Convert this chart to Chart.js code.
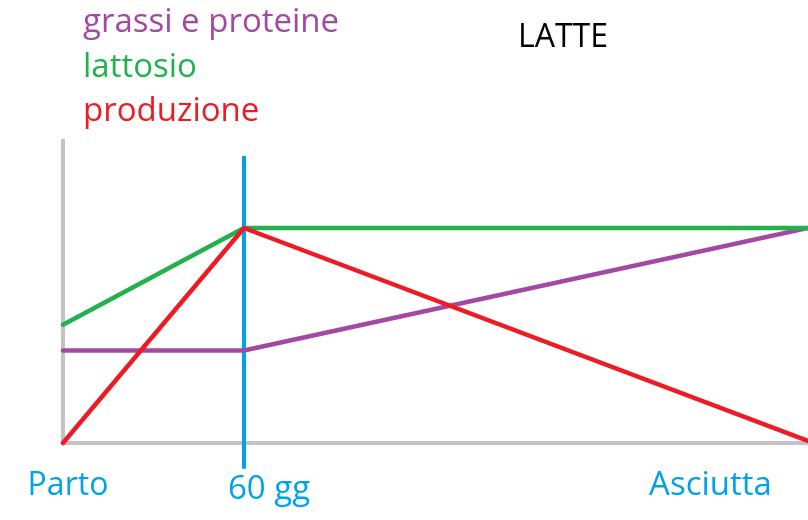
<!DOCTYPE html>
<html>
<head>
<meta charset="utf-8">
<script src="https://cdn.jsdelivr.net/npm/chart.js@4.4.1/dist/chart.umd.min.js"></script>
<style>
    html, body { margin: 0; padding: 0; background: #fff; }
    #wrap { width: 808px; height: 520px; position: relative; }
</style>
</head>
<body>
<div id="wrap"><canvas id="latte"></canvas></div>
<script>
// giorni dal parto (asse x) e livelli relativi (asse y, 100 = picco)
const giorni = [0, 60, 247];
const grassiProteine = [43, 43, 100];
const lattosio = [55, 100, 100];
const produzione = [0, 100, 1];

const xTickValues = [0, 60, 214];
const xTickLabels = ['Parto', '60 gg', 'Asciutta'];
const markerGiorno = 60;
const markerRange = [-12, 133.5];

const serieNomi = ['grassi e proteine', 'lattosio', 'produzione'];
const titolo = 'LATTE';

const VIOLA = '#a349a4';
const VERDE = '#22b14c';
const ROSSO = '#ed1c24';
const BLU = '#00a2e8';
const GRIGIO = '#c3c3c3';
const FONT = '"Open Sans", sans-serif';

function punti(ys) {
    return ys.map((y, i) => ({ x: giorni[i], y: y }));
}

const disegno = {
    id: 'disegno',
    beforeDatasetsDraw(chart) {
        const ctx = chart.ctx;
        const xs = chart.scales.x;
        const ys = chart.scales.y;
        const x0 = xs.getPixelForValue(0);
        const y0 = ys.getPixelForValue(0);
        ctx.save();
        ctx.strokeStyle = GRIGIO;
        ctx.lineWidth = 4;
        ctx.beginPath();
        ctx.moveTo(x0, ys.top);
        ctx.lineTo(x0, y0);
        ctx.moveTo(x0 - 2, y0);
        ctx.lineTo(xs.right, y0);
        ctx.stroke();

        const xm = xs.getPixelForValue(markerGiorno);
        ctx.strokeStyle = BLU;
        ctx.beginPath();
        ctx.moveTo(xm, ys.getPixelForValue(markerRange[1]));
        ctx.lineTo(xm, ys.getPixelForValue(markerRange[0]));
        ctx.stroke();
        ctx.restore();
    },
    afterDraw(chart) {
        const ctx = chart.ctx;
        const xs = chart.scales.x;
        ctx.save();
        ctx.textBaseline = 'alphabetic';

        // etichette asse x
        const dx = [5, 25, 2];
        const base = [495, 499, 495];
        const size = [32, 33, 33];
        ctx.fillStyle = BLU;
        ctx.textAlign = 'center';
        xTickValues.forEach((v, i) => {
            ctx.font = size[i] + 'px ' + FONT;
            ctx.fillText(xTickLabels[i], xs.getPixelForValue(v) + dx[i], base[i]);
        });

        // legenda
        const colori = [VIOLA, VERDE, ROSSO];
        ctx.textAlign = 'left';
        ctx.font = '33px ' + FONT;
        serieNomi.forEach((n, i) => {
            ctx.fillStyle = colori[i];
            ctx.fillText(n, 83, 32 + i * 44.5);
        });

        // titolo
        ctx.fillStyle = '#000';
        ctx.textAlign = 'center';
        ctx.font = '32px ' + FONT;
        ctx.fillText(titolo, 563, 47);
        ctx.restore();
    }
};

new Chart(document.getElementById('latte'), {
    type: 'line',
    data: {
        datasets: [
            { label: serieNomi[0], data: punti(grassiProteine), borderColor: VIOLA, order: 2 },
            { label: serieNomi[1], data: punti(lattosio), borderColor: VERDE, order: 1 },
            { label: serieNomi[2], data: punti(produzione), borderColor: ROSSO, order: 0 }
        ]
    },
    options: {
        responsive: true,
        maintainAspectRatio: false,
        animation: false,
        clip: false,
        layout: { padding: { left: 63, right: 0, top: 139, bottom: 77 } },
        elements: {
            line: { borderWidth: 4.5, tension: 0, borderCapStyle: 'round', borderJoinStyle: 'round' },
            point: { radius: 0 }
        },
        scales: {
            x: { type: 'linear', min: 0, max: 247, display: false },
            y: { type: 'linear', min: 0, max: 141.4, display: false }
        },
        plugins: {
            legend: { display: false },
            title: { display: false },
            tooltip: { enabled: false }
        }
    },
    plugins: [disegno]
});
</script>
</body>
</html>
